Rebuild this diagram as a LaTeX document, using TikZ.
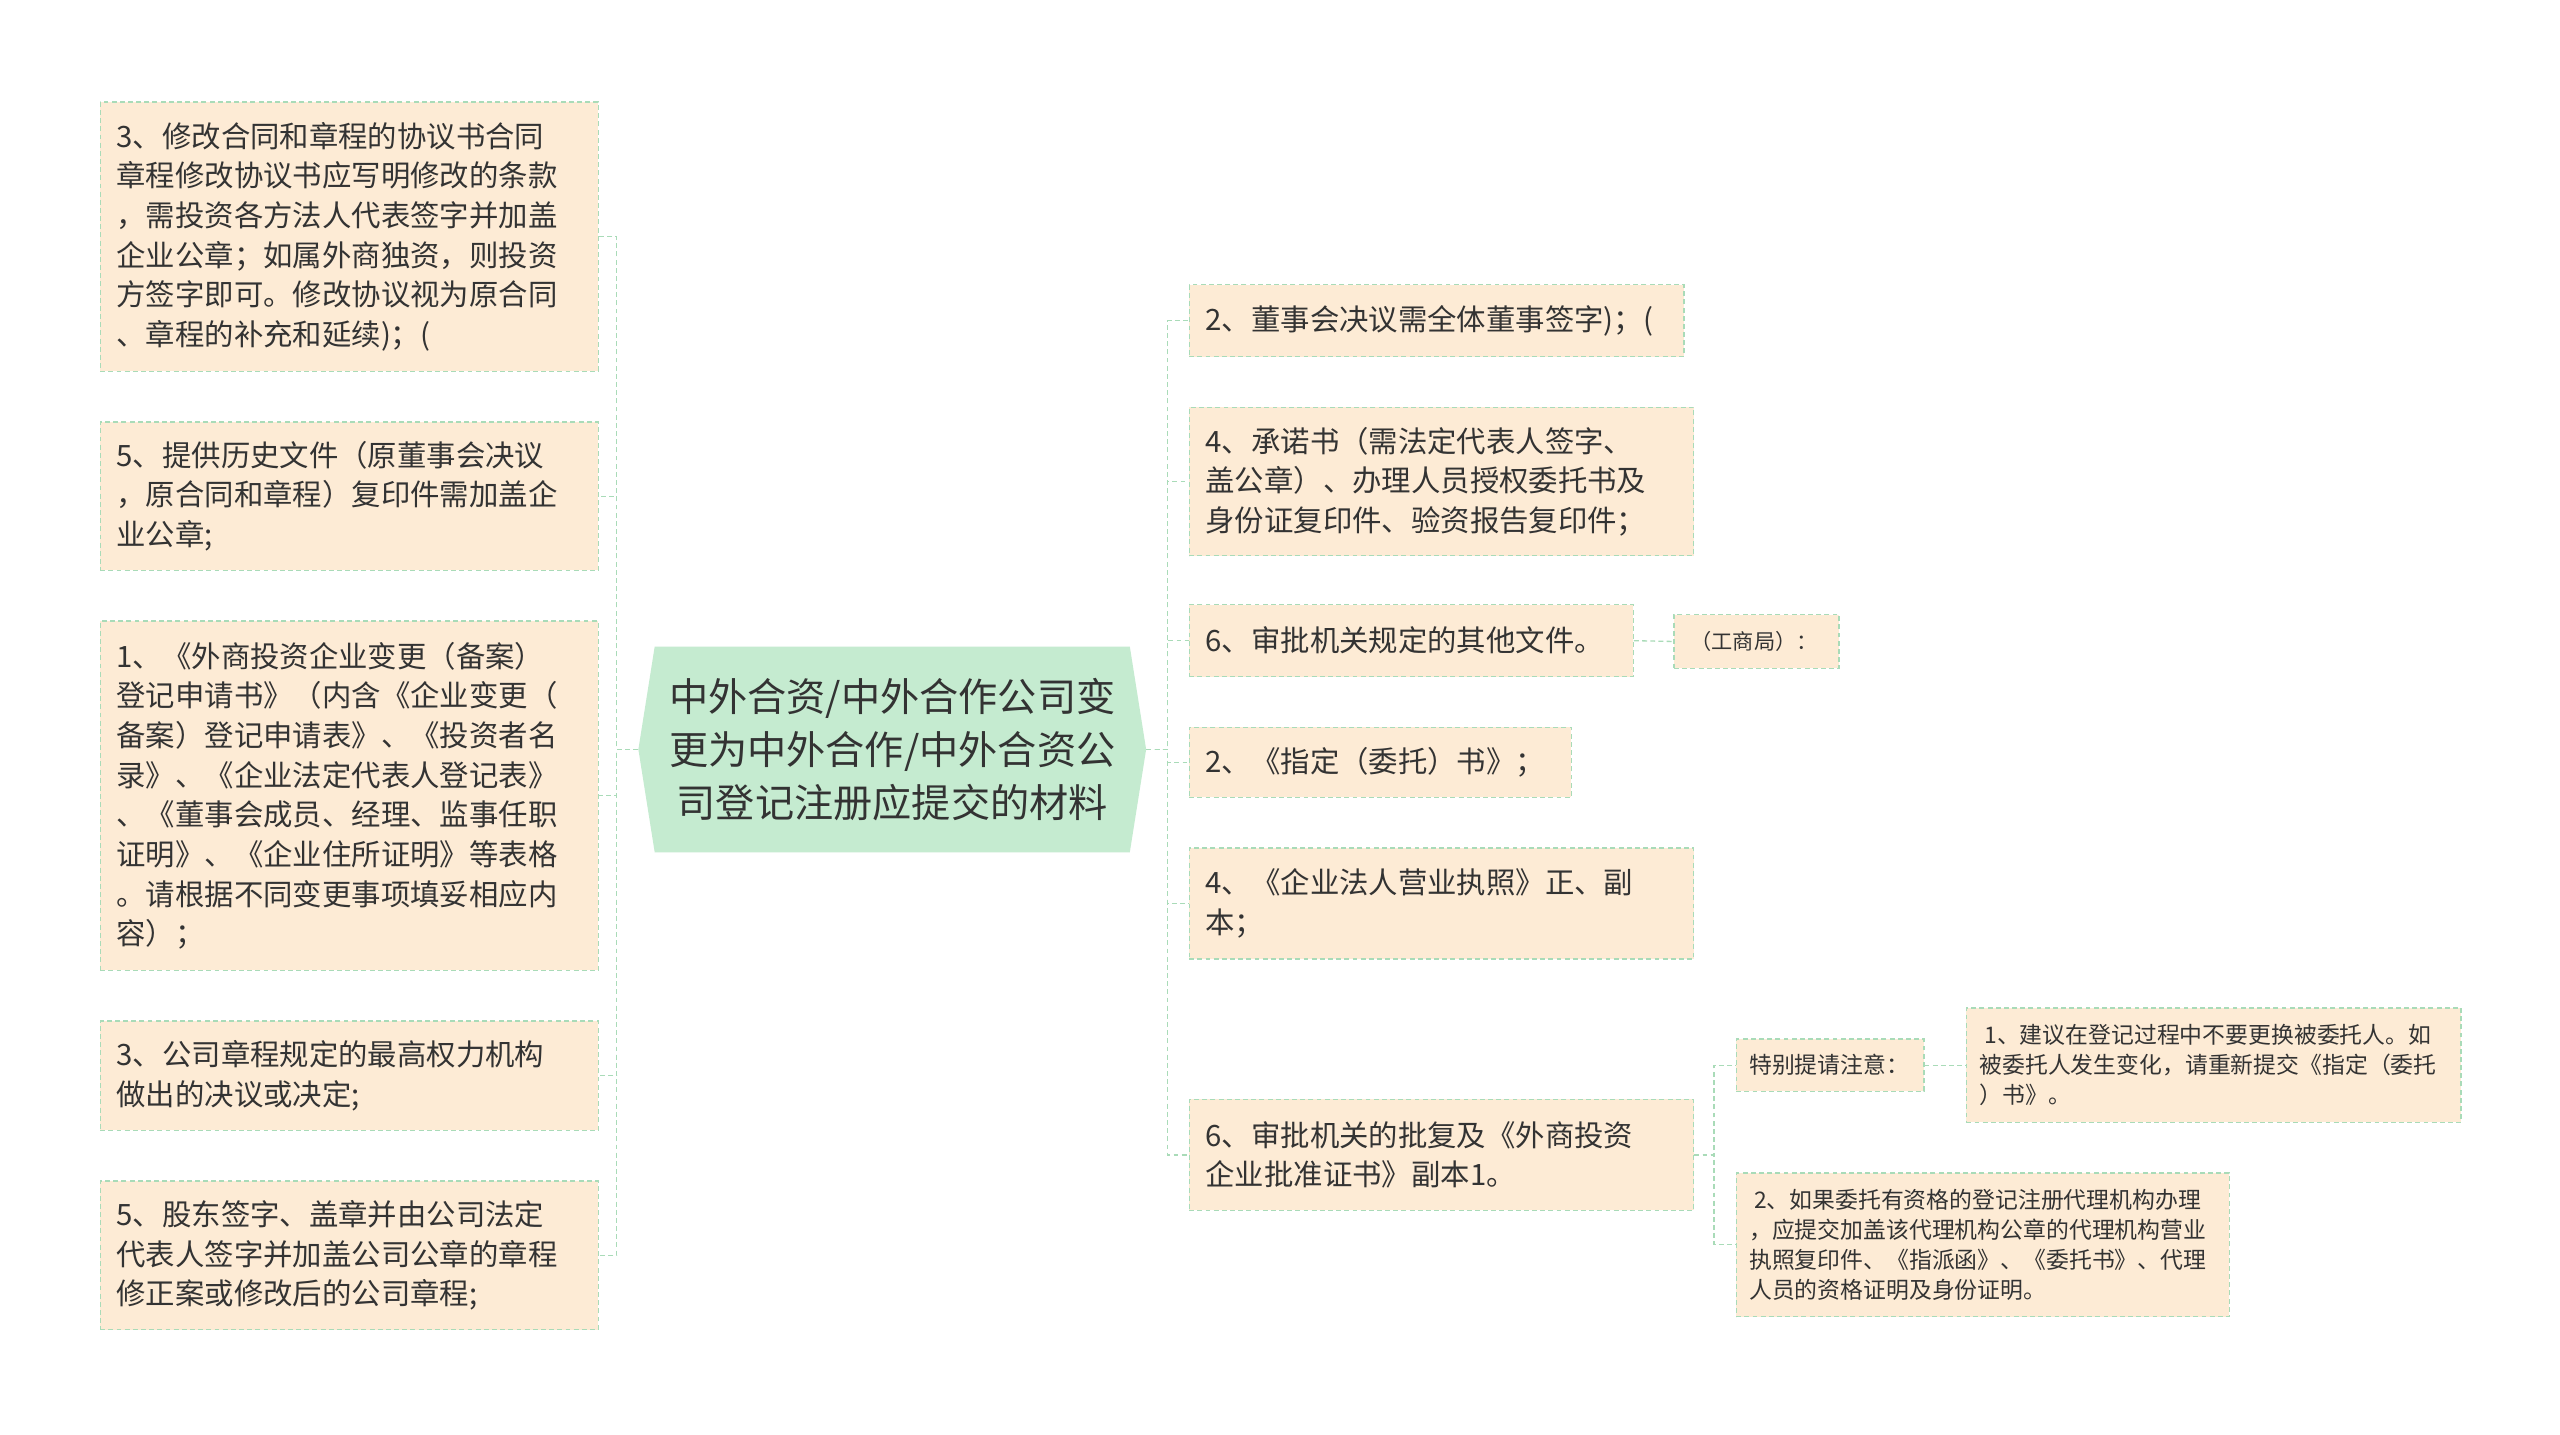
\documentclass[tikz,border=0pt]{standalone}
\usepackage{fontspec}
\newfontfamily\cjkfont{Noto Sans CJK SC}
\definecolor{boxfill}{HTML}{FDEBD5}
\definecolor{edgegreen}{HTML}{A9DBB8}
\definecolor{rootfill}{HTML}{C5EBD0}
\definecolor{textgray}{HTML}{333333}
\begin{document}
\begin{tikzpicture}[x=1pt,y=-1pt,
    leaf/.style={draw=edgegreen,fill=boxfill,dash pattern=on 3pt off 2pt,line width=0.8pt,
      anchor=north west,inner xsep=10pt,inner ysep=0pt,align=left,text=textgray,
      font=\cjkfont\fontsize{18}{24.3}\selectfont},
    notebox/.style={leaf,inner xsep=8pt,font=\cjkfont\fontsize{14}{18.4}\selectfont},
    link/.style={draw=edgegreen,dash pattern=on 3pt off 2pt,line width=0.8pt}]
    %% Canvas
    \fill[white] (0,0) rectangle (1568,878.9);
    \useasboundingbox (0,0) rectangle (1568,878.9);
    %% Root
    \fill[rootfill] (391,459) -- (401,396) -- (692,396) -- (702,459) -- (692,522) -- (401,522) -- cycle;
    \node[minimum width=311pt,minimum height=126pt,inner sep=0pt,align=center,text=textgray,
      font=\cjkfont\fontsize{24}{32.5}\selectfont] (root) at (546.5,459)
      {中外合资/中外合作公司变\\更为中外合作/中外合资公\\司登记注册应提交的材料};
    %% Left branch
    \node[leaf,text width=285pt,minimum height=165pt] (L1) at (61,62)
      {3、修改合同和章程的协议书合同\\章程修改协议书应写明修改的条款\\，需投资各方法人代表签字并加盖\\企业公章；如属外商独资，则投资\\方签字即可。修改协议视为原合同\\、章程的补充和延续)；(};
    \node[leaf,text width=285pt,minimum height=91pt] (L2) at (61,258)
      {5、提供历史文件（原董事会决议\\，原合同和章程）复印件需加盖企\\业公章;};
    \node[leaf,text width=285pt,minimum height=214pt] (L3) at (61,380)
      {1、《外商投资企业变更（备案）\\登记申请书》（内含《企业变更（\\备案）登记申请表》、《投资者名\\录》、《企业法定代表人登记表》\\、《董事会成员、经理、监事任职\\证明》、《企业住所证明》等表格\\。请根据不同变更事项填妥相应内\\容）；};
    \node[leaf,text width=285pt,minimum height=67pt] (L4) at (61,625)
      {3、公司章程规定的最高权力机构\\做出的决议或决定;};
    \node[leaf,text width=285pt,minimum height=91pt] (L5) at (61,723)
      {5、股东签字、盖章并由公司法定\\代表人签字并加盖公司公章的章程\\修正案或修改后的公司章程;};
    %% Right branch
    \node[leaf,text width=283pt,minimum height=44pt] (R1) at (728,174)
      {2、董事会决议需全体董事签字)；(};
    \node[leaf,text width=289pt,minimum height=91pt] (R2) at (728,249)
      {4、承诺书（需法定代表人签字、\\盖公章）、办理人员授权委托书及\\身份证复印件、验资报告复印件；};
    \node[leaf,text width=252pt,minimum height=44pt] (R3) at (728,370)
      {6、审批机关规定的其他文件。};
    \node[notebox,font=\cjkfont\fontsize{13}{16}\selectfont,text width=85pt,minimum height=33pt] (R3a) at (1025,376)
      {\hspace{2pt}（工商局）：};
    \node[leaf,text width=214pt,minimum height=43pt] (R4) at (728,445)
      {2、《指定（委托）书》；};
    \node[leaf,text width=289pt,minimum height=68pt] (R5) at (728,519)
      {4、《企业法人营业执照》正、副\\本；};
    \node[leaf,text width=289pt,minimum height=68pt] (R6) at (728,673)
      {6、审批机关的批复及《外商投资\\企业批准证书》副本1。};
    %% Notes
    \node[notebox,text width=99pt,minimum height=32pt] (S1) at (1063,636)
      {特别提请注意：};
    \node[notebox,text width=287pt,minimum height=70pt] (S1a) at (1204,617)
      {\hspace{3pt}1、建议在登记过程中不要更换被委托人。如\\被委托人发生变化，请重新提交《指定（委托\\）书》。};
    \node[notebox,text width=286pt,minimum height=88pt] (S2) at (1063,718)
      {\hspace{3pt}2、如果委托有资格的登记注册代理机构办理\\，应提交加盖该代理机构公章的代理机构营业\\执照复印件、《指派函》、《委托书》、代理\\人员的资格证明及身份证明。};
    %% Connectors
    \foreach \n in {L1,L2,L3,L4,L5}
      \draw[link] (root.west) -- ++(-13,0) |- (\n.east);
    \foreach \n in {R1,R2,R3,R4,R5,R6}
      \draw[link] (root.east) -- ++(13,0) |- (\n.west);
    \draw[link] (R3.east) -- (R3a.west);
    \foreach \n in {S1,S2}
      \draw[link] (R6.east) -- ++(12,0) |- (\n.west);
    \draw[link] (S1.east) -- (S1a.west);
\end{tikzpicture}
\end{document}
